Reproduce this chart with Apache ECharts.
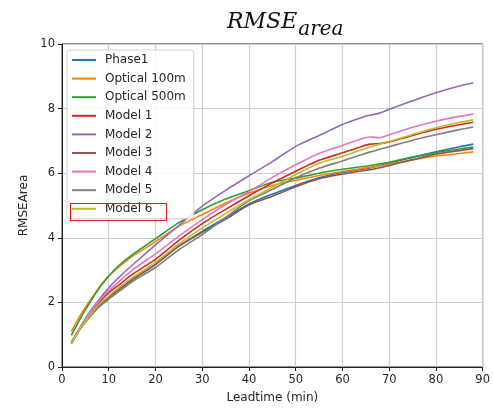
<!DOCTYPE html>
<html>
<head>
<meta charset="utf-8">
<script src="https://cdn.jsdelivr.net/npm/echarts@6/dist/echarts.min.js"></script>
<style>
  html, body { margin: 0; padding: 0; background: #fff; }
  #chart { width: 493px; height: 409px; }
</style>
</head>
<body>
<div id="chart"></div>
<script>
// lead times (min)
const leadTimes = [2, 4, 6, 8, 10, 12, 15, 20, 25, 30, 35, 40, 45, 50, 55, 60, 64, 66, 68, 70, 75, 80, 85, 88];

const seriesNames = ['Phase1', 'Optical 100m', 'Optical 500m', 'Model 1', 'Model 2', 'Model 3', 'Model 4', 'Model 5', 'Model 6'];

const phase1 = [0.76, 1.24, 1.6, 1.92, 2.15, 2.38, 2.7, 3.18, 3.74, 4.2, 4.62, 5.05, 5.35, 5.62, 5.86, 6.02, 6.12, 6.17, 6.24, 6.31, 6.49, 6.66, 6.82, 6.9];
const optical100 = [1.1, 1.62, 2.06, 2.47, 2.82, 3.08, 3.42, 3.88, 4.36, 4.72, 5.08, 5.38, 5.62, 5.78, 5.93, 6.05, 6.14, 6.18, 6.23, 6.28, 6.41, 6.53, 6.61, 6.66];
const optical500 = [0.98, 1.52, 2.0, 2.45, 2.82, 3.12, 3.47, 3.97, 4.47, 4.87, 5.2, 5.46, 5.72, 5.85, 6.0, 6.12, 6.2, 6.24, 6.29, 6.34, 6.5, 6.64, 6.75, 6.81];
const model1 = [0.75, 1.24, 1.65, 2.0, 2.3, 2.52, 2.86, 3.33, 3.92, 4.44, 4.88, 5.3, 5.7, 6.06, 6.4, 6.63, 6.82, 6.9, 6.92, 6.97, 7.17, 7.36, 7.5, 7.58];
const model2 = [0.75, 1.26, 1.72, 2.1, 2.45, 2.75, 3.15, 3.78, 4.38, 4.98, 5.47, 5.92, 6.36, 6.83, 7.17, 7.51, 7.72, 7.8, 7.86, 7.98, 8.24, 8.49, 8.7, 8.8];
const model3 = [0.74, 1.22, 1.6, 1.92, 2.15, 2.38, 2.7, 3.18, 3.74, 4.17, 4.57, 5.02, 5.29, 5.58, 5.83, 5.97, 6.07, 6.11, 6.17, 6.24, 6.42, 6.59, 6.7, 6.76];
const model4 = [0.75, 1.25, 1.68, 2.05, 2.36, 2.62, 3.0, 3.5, 4.05, 4.56, 5.03, 5.43, 5.87, 6.26, 6.61, 6.86, 7.06, 7.12, 7.1, 7.19, 7.42, 7.61, 7.76, 7.83];
const model5 = [0.72, 1.2, 1.56, 1.87, 2.1, 2.32, 2.64, 3.08, 3.63, 4.1, 4.63, 5.15, 5.5, 5.86, 6.15, 6.38, 6.57, 6.66, 6.74, 6.82, 7.02, 7.19, 7.35, 7.43];
const model6 = [0.74, 1.22, 1.6, 1.95, 2.2, 2.44, 2.76, 3.24, 3.81, 4.3, 4.75, 5.18, 5.56, 5.96, 6.31, 6.52, 6.72, 6.82, 6.9, 6.98, 7.2, 7.41, 7.57, 7.65];

const allValues = [phase1, optical100, optical500, model1, model2, model3, model4, model5, model6];

const colors = ['#1f77b4', '#ff7f0e', '#2ca02c', '#d62728', '#9467bd', '#8c564b', '#e377c2', '#7f7f7f', '#bcbd22'];

const xTicks = [0, 10, 20, 30, 40, 50, 60, 70, 80, 90];
const yTicks = [0, 2, 4, 6, 8, 10];

const font = 'DejaVu Sans';
const textColor = '#262626';

const lineOptions = {
    type: 'line',
    showSymbol: false,
    symbol: 'none',
    smooth: 0.2,
    lineStyle: { width: 1.6 }
};

function createChart() {
    let chartDom = document.getElementById('chart');
    let myChart = echarts.init(chartDom, null, { renderer: 'canvas' });

    let series = [];
    for (let i = 0; i < seriesNames.length; i++) {
        series.push({
            name: seriesNames[i],
            data: leadTimes.map((t, j) => [t, allValues[i][j]]),
            ...lineOptions
        });
    }

    let option = {
        animation: false,
        color: colors,
        title: {
            text: '{a|RMSE}{b|area}',
            left: 222,
            top: 6,
            textStyle: {
                fontWeight: 'normal',
                rich: {
                    a: { fontFamily: 'DejaVu Serif', fontStyle: 'italic', fontWeight: 'normal', fontSize: 22, color: '#111', verticalAlign: 'bottom' },
                    b: { fontFamily: 'DejaVu Serif', fontStyle: 'italic', fontWeight: 'normal', fontSize: 20, color: '#111', verticalAlign: 'bottom', padding: [0, 0, -7, 1] }
                }
            }
        },
        grid: {
            left: 62,
            right: 5,
            top: 44,
            bottom: 37,
            show: true,
            borderColor: '#222',
            borderWidth: 1
        },
        legend: {
            orient: 'vertical',
            left: 67,
            top: 50,
            icon: 'rect',
            itemWidth: 24,
            itemHeight: 2,
            itemGap: 6.6,
            padding: [4, 8, 4, 5],
            backgroundColor: 'rgba(255,255,255,0.85)',
            borderColor: '#d0d0d0',
            borderWidth: 1,
            borderRadius: 3,
            textStyle: { fontFamily: font, fontSize: 12, lineHeight: 12, color: textColor, padding: [0, 0, 0, 4] },
            data: seriesNames
        },
        xAxis: {
            type: 'value',
            min: 0,
            max: 90,
            interval: 10,
            name: 'Leadtime (min)',
            nameLocation: 'middle',
            nameGap: 25,
            nameTextStyle: { fontFamily: font, fontSize: 12, color: textColor },
            axisLine: { show: true, lineStyle: { color: '#222' } },
            axisTick: { show: true, length: 4, lineStyle: { color: '#222' } },
            axisLabel: {
                fontFamily: font, fontSize: 11.5, color: textColor, margin: 7,
                formatter: v => xTicks.includes(v) ? String(v) : ''
            },
            splitLine: { show: true, lineStyle: { color: '#cfcfcf', width: 1.2 } }
        },
        yAxis: {
            type: 'value',
            min: 0,
            max: 10,
            interval: 2,
            name: 'RMSEArea',
            nameLocation: 'middle',
            nameGap: 30,
            nameTextStyle: { fontFamily: font, fontSize: 12, color: textColor },
            axisLine: { show: true, lineStyle: { color: '#222' } },
            axisTick: { show: true, length: 4, lineStyle: { color: '#222' } },
            axisLabel: {
                fontFamily: font, fontSize: 11.5, color: textColor, margin: 7,
                formatter: v => yTicks.includes(v) ? String(v) : ''
            },
            splitLine: { show: true, lineStyle: { color: '#cfcfcf', width: 1.2 } }
        },
        graphic: [
            {
                // red highlight box round the last legend entry
                type: 'rect',
                left: 68,
                top: 201,
                shape: { width: 96, height: 17 },
                style: { fill: 'none', stroke: '#e02020', lineWidth: 1.2 },
                z: 100
            }
        ],
        series
    };

    option && myChart.setOption(option);
}

createChart();
</script>
</body>
</html>
